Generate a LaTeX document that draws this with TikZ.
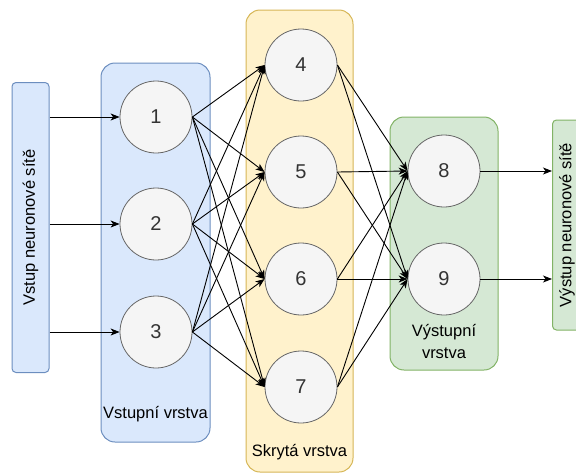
\documentclass[tikz,border=0pt]{standalone}
\usepackage{fontspec}
\setmainfont{Liberation Sans}
\usetikzlibrary{arrows.meta}
\definecolor{bfill}{HTML}{DAE8FC}\definecolor{bdraw}{HTML}{6C8EBF}
\definecolor{yfill}{HTML}{FFF2CC}\definecolor{ydraw}{HTML}{D6B656}
\definecolor{gfill}{HTML}{D5E8D4}\definecolor{gdraw}{HTML}{82B366}
\definecolor{cfill}{HTML}{F5F5F5}\definecolor{cdraw}{HTML}{666666}
\definecolor{ctext}{HTML}{333333}
\begin{document}
\begin{tikzpicture}[x=1pt,y=-1pt,
  layer/.style={draw=#1,line width=1pt,rounded corners=14pt},
  neuron/.style={circle,draw=cdraw,fill=cfill,line width=0.8pt,minimum size=72pt,inner sep=0pt,text=ctext,font=\fontsize{20}{22}\selectfont},
  lbl/.style={font=\fontsize{16.5}{20}\selectfont,align=center,inner sep=0pt},
  conn/.style={line width=0.9pt,-{Stealth[length=9pt,width=7pt,inset=2.5pt]}}]
\useasboundingbox (0,0) rectangle (576,474);
% containers
\draw[layer=bdraw,fill=bfill] (101,63) rectangle (210,442);
\draw[layer=ydraw,fill=yfill] (246,10) rectangle (353,472);
\draw[layer=gdraw,fill=gfill] (390,117) rectangle (498,370);
\node[draw=bdraw,fill=bfill,line width=1pt,rounded corners=4pt,minimum width=37pt,minimum height=290pt,inner sep=0pt] (inbox) at (30.5,227.5) {};
\node[rotate=90,lbl] at (inbox.center) {Vstup neuronové sítě};
\begin{scope}
\clip (0,0) rectangle (576,474);
\node[draw=gdraw,fill=gfill,line width=1pt,rounded corners=4pt,minimum width=37pt,minimum height=210pt,inner sep=0pt,anchor=west] (outbox) at (552,225) {};
\node[rotate=90,lbl] at (567,225) {Výstup neuronové sítě};
\end{scope}
% labels
\node[lbl] (lin) at (155.5,414) {Vstupní vrstva};
\node[lbl] (lhid) at (299.5,452) {Skrytá vrstva};
\node[lbl] (lout) at (444,342) {Výstupní\\[2pt]vrstva};
% neurons
\node[neuron] (n1) at (156,117) {1};
\node[neuron] (n2) at (156,224) {2};
\node[neuron] (n3) at (156,332) {3};
\node[neuron] (n4) at (301,65) {4};
\node[neuron] (n5) at (301,172) {5};
\node[neuron] (n6) at (301,279) {6};
\node[neuron] (n7) at (301,387) {7};
\node[neuron] (n8) at (444,171) {8};
\node[neuron] (n9) at (444,279) {9};
% input arrows
\foreach \n in {n1,n2,n3} \draw[conn] (inbox.east |- \n) -- (\n.west);
% input -> hidden
\foreach \a in {n1,n2,n3} \foreach \b in {n4,n5,n6,n7} \draw[conn] (\a.east) -- (\b.west);
% hidden -> output
\foreach \a in {n4,n5,n6,n7} \foreach \b in {n8,n9} \draw[conn] (\a.east) -- (\b.west);
% output arrows
\foreach \n in {n8,n9} \draw[conn] (\n.east) -- (outbox.west |- \n);
\end{tikzpicture}
\end{document}
